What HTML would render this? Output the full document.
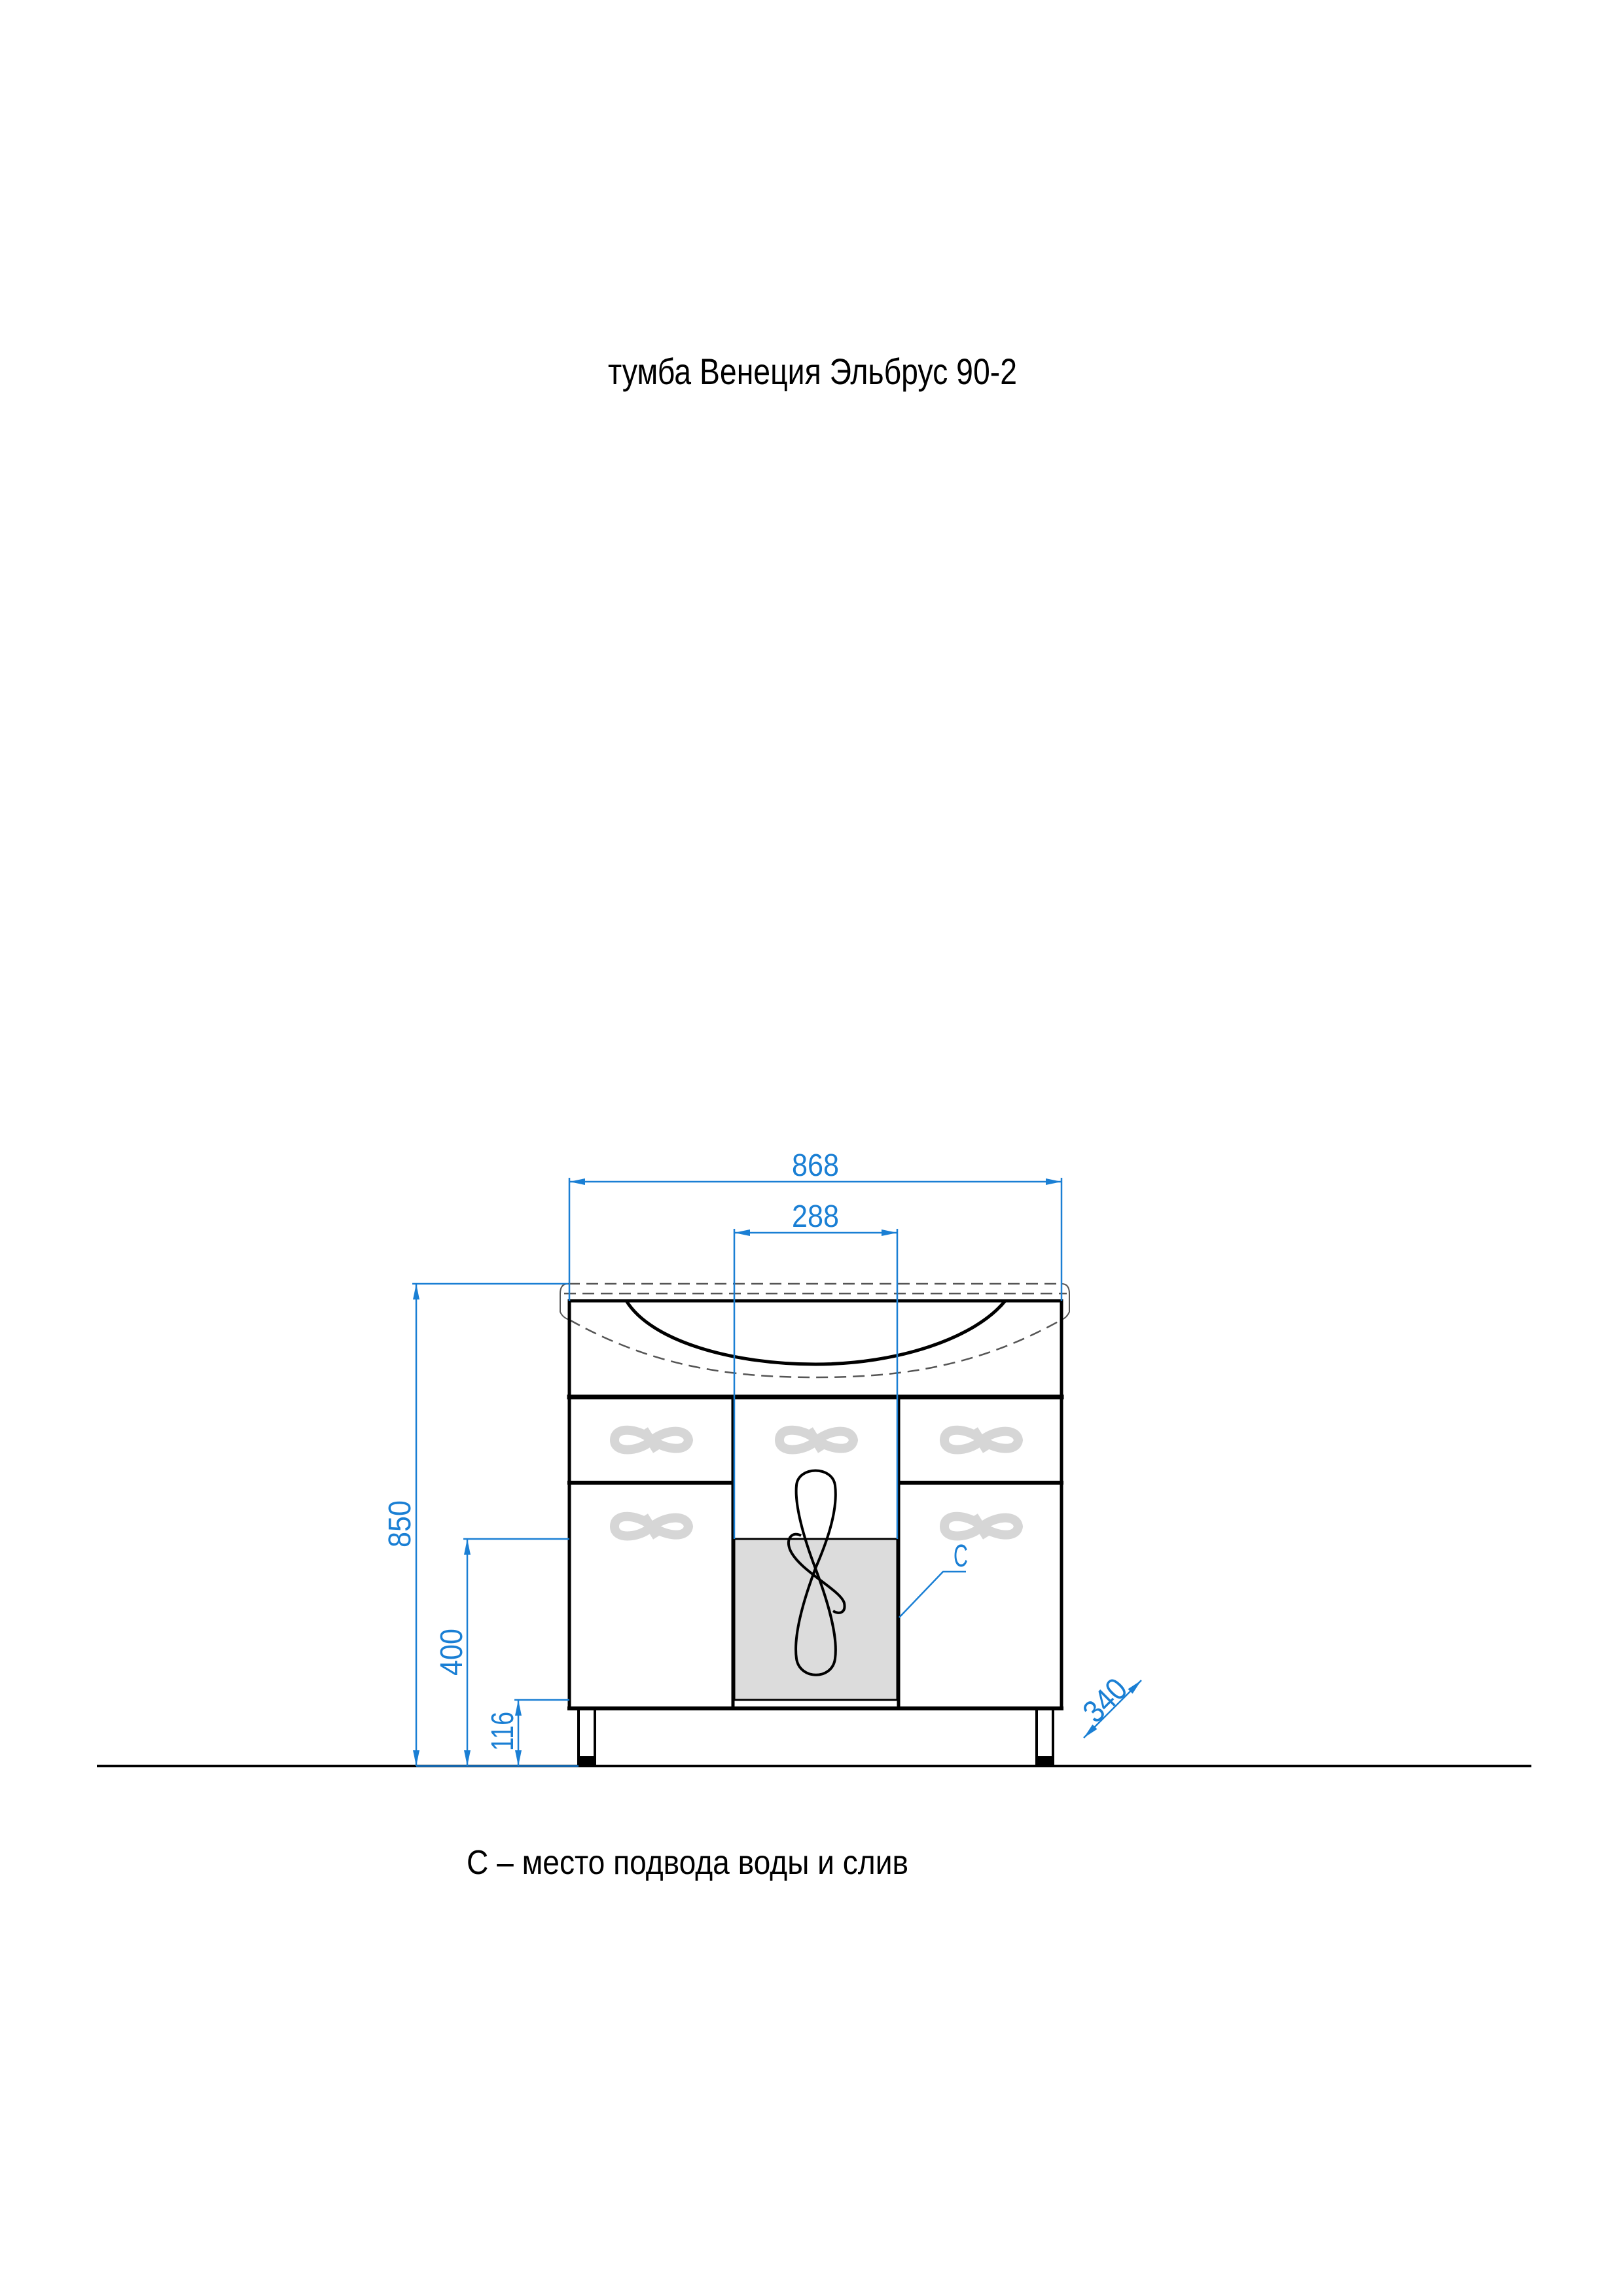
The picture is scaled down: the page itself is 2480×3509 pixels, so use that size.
<!DOCTYPE html>
<html><head><meta charset="utf-8"><style>html,body{margin:0;padding:0;background:#fff}svg{display:block}</style></head>
<body>
<svg width="2480" height="3509" viewBox="0 0 2480 3509" xmlns="http://www.w3.org/2000/svg" font-family="Liberation Sans, sans-serif">
<rect width="2480" height="3509" fill="#fff"/>
<defs>
<marker id="b" viewBox="0 0 24 10" refX="24" refY="5" markerWidth="26" markerHeight="10" markerUnits="userSpaceOnUse" orient="auto-start-reverse"><path d="M0,0 L24,5 L0,10z" fill="#1a7fd4"/></marker>
<g id="orn" fill="none" stroke="#d6d6d6" stroke-width="14">
<path d="M-55,0 C-55,-22 -20,-18 0,-2 C20,14 55,20 58,0 C55,-20 20,-16 0,2 C-20,18 -55,20 -55,0 Z"/>
<path d="M-10,-16 L10,16"/>
</g>
</defs>

<text x="929" y="587" font-size="56" textLength="625" lengthAdjust="spacingAndGlyphs" fill="#000">тумба Венеция Эльбрус 90-2</text>

<line x1="148" y1="2699" x2="2340" y2="2699" stroke="#000" stroke-width="4"/>

<g fill="none" stroke="#555" stroke-width="2.5" stroke-dasharray="18,10">
<line x1="868" y1="1962" x2="1622" y2="1962"/>
<line x1="862" y1="1977" x2="1630" y2="1977"/>
<path d="M870,2017 C1000,2090 1120,2105 1246,2105 C1372,2105 1492,2090 1622,2017"/>
</g>
<path d="M868,1962 Q856,1962 856,1977 L856,2005 Q860,2014 870,2017 M1622,1962 Q1634,1962 1634,1977 L1634,2005 Q1630,2014 1622,2017" fill="none" stroke="#555" stroke-width="2"/>

<g fill="none" stroke="#000" stroke-linecap="square">
<rect x="1122" y="2352" width="249" height="246" fill="#dcdcdc" stroke-width="3"/>
<rect x="870" y="1988" width="752" height="623" stroke-width="5"/>
<path d="M870,1988 L957,1988 C995,2050 1120,2085 1246,2085 C1372,2085 1490,2045 1536,1988 L1622,1988" stroke-width="5"/>
<line x1="870" y1="2135" x2="1622" y2="2135" stroke-width="7"/>
<line x1="1120" y1="2135" x2="1120" y2="2611" stroke-width="5"/>
<line x1="1373" y1="2135" x2="1373" y2="2611" stroke-width="5"/>
<line x1="870" y1="2266" x2="1120" y2="2266" stroke-width="6"/>
<line x1="1373" y1="2266" x2="1622" y2="2266" stroke-width="6"/>
<line x1="870" y1="2611" x2="1622" y2="2611" stroke-width="6"/>
<rect x="884" y="2611" width="25" height="76" stroke-width="4"/>
<rect x="1584" y="2611" width="25" height="76" stroke-width="4"/>
</g>
<rect x="882" y="2684" width="29" height="15" fill="#000"/>
<rect x="1582" y="2684" width="29" height="15" fill="#000"/>

<use href="#orn" x="994" y="2201"/>
<use href="#orn" x="1246" y="2201"/>
<use href="#orn" x="1498" y="2201"/>
<use href="#orn" x="994" y="2333"/>
<use href="#orn" x="1498" y="2333"/>

<g fill="none" stroke="#000" stroke-width="4">
<path d="M1246,2397 C1228,2350 1214,2300 1217,2270 C1220,2240 1272,2240 1276,2270 C1281,2310 1262,2360 1246,2397 C1228,2445 1212,2500 1217,2535 C1222,2568 1272,2568 1276,2535 C1281,2500 1264,2445 1246,2397 Z"/>
<path d="M1224,2347 C1212,2340 1200,2350 1207,2368 C1220,2400 1285,2430 1290,2450 C1293,2465 1282,2468 1273,2462"/>
</g>

<g stroke="#1a7fd4" stroke-width="2.5" fill="none">
<line x1="870" y1="1800" x2="870" y2="1988"/>
<line x1="1622" y1="1800" x2="1622" y2="1988"/>
<line x1="870" y1="1806" x2="1622" y2="1806" marker-start="url(#b)" marker-end="url(#b)"/>
<line x1="1122" y1="1878" x2="1122" y2="2352"/>
<line x1="1371" y1="1878" x2="1371" y2="2352"/>
<line x1="1122" y1="1884" x2="1371" y2="1884" marker-start="url(#b)" marker-end="url(#b)"/>
<line x1="630" y1="1962" x2="868" y2="1962"/>
<line x1="636" y1="1962" x2="636" y2="2699" marker-start="url(#b)" marker-end="url(#b)"/>
<line x1="708" y1="2352" x2="870" y2="2352"/>
<line x1="714" y1="2352" x2="714" y2="2699" marker-start="url(#b)" marker-end="url(#b)"/>
<line x1="786" y1="2598" x2="870" y2="2598"/>
<line x1="792" y1="2598" x2="792" y2="2699" marker-start="url(#b)" marker-end="url(#b)"/>
<line x1="636" y1="2699" x2="884" y2="2699"/>
<polyline points="1374,2472 1441,2402 1476,2402"/>
<line x1="1656" y1="2656" x2="1744" y2="2568" marker-start="url(#b)" marker-end="url(#b)"/>
</g>
<g fill="#1a7fd4" font-size="48">
<text x="1210" y="1797" textLength="72" lengthAdjust="spacingAndGlyphs">868</text>
<text x="1210" y="1875" textLength="72" lengthAdjust="spacingAndGlyphs">288</text>
<text x="1457" y="2394" textLength="22" lengthAdjust="spacingAndGlyphs">C</text>
<text transform="translate(627,2329) rotate(-90)" text-anchor="middle" textLength="72" lengthAdjust="spacingAndGlyphs">850</text>
<text transform="translate(706,2525) rotate(-90)" text-anchor="middle" textLength="72" lengthAdjust="spacingAndGlyphs">400</text>
<text transform="translate(784,2646) rotate(-90)" text-anchor="middle" textLength="60" lengthAdjust="spacingAndGlyphs">116</text>
<text transform="translate(1700,2610) rotate(-45)" text-anchor="middle" textLength="72" lengthAdjust="spacingAndGlyphs">340</text>
</g>

<text x="713" y="2864" font-size="52" textLength="675" lengthAdjust="spacingAndGlyphs" fill="#000">C – место подвода воды и слив</text>
</svg>
</body></html>
